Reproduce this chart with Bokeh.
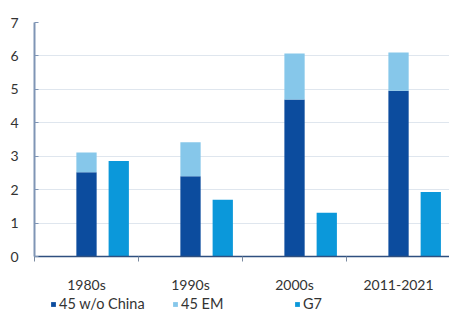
from bokeh.plotting import figure
from bokeh.models import (ColumnDataSource, Range1d, FixedTicker, Legend, LegendItem)
from bokeh.layouts import column
from bokeh.embed import file_html
from bokeh.resources import INLINE

categories = ["1980s", "1990s", "2000s", "2011-2021"]
wo_china = [2.52, 2.40, 4.70, 4.96]
em45 = [3.11, 3.42, 6.07, 6.10]
g7 = [2.86, 1.70, 1.31, 1.93]
y_ticks = [0, 1, 2, 3, 4, 5, 6, 7]
series_names = ["45 w/o China", "45 EM", "G7"]

DARK = "#0c4c9e"
LIGHT = "#86c7ea"
CYAN = "#0b98da"
TXT = "#333333"
FONT = "Lato"

xc = [i + 0.5 for i in range(len(categories))]
src = ColumnDataSource(dict(
    x=xc,
    xg=[v + 0.31 for v in xc],
    wo=wo_china,
    em=em45,
    g7=g7,
))

p = figure(width=449, height=295, output_backend="svg", toolbar_location=None,
           x_range=Range1d(0, 3.99), y_range=Range1d(0, 7),
           min_border_left=34, min_border_right=0, min_border_top=22,
           min_border_bottom=37)
p.outline_line_color = None
p.background_fill_color = "white"

bw = 0.195
p.vbar(x="x", top="wo", bottom=0, width=bw, source=src, fill_color=DARK, line_color=None)
p.vbar(x="x", top="em", bottom="wo", width=bw, source=src, fill_color=LIGHT, line_color=None)
p.vbar(x="xg", top="g7", bottom=0, width=bw, source=src, fill_color=CYAN, line_color=None)

# x axis
p.xaxis.ticker = FixedTicker(ticks=xc, minor_ticks=[0, 1, 2, 3])
p.xaxis.major_label_overrides = {v: c for v, c in zip(xc, categories)}
p.xaxis.major_tick_line_color = None
p.xaxis.major_tick_out = 0
p.xaxis.major_tick_in = 0
p.xaxis.minor_tick_line_color = "#7a8aa0"
p.xaxis.minor_tick_out = 5
p.xaxis.minor_tick_in = 0
p.xaxis.axis_line_color = "#2f4f7f"
p.xaxis.axis_line_width = 1.5
p.xaxis.major_label_standoff = 14
p.xaxis.major_label_text_font = FONT
p.xaxis.major_label_text_font_size = "14px"
p.xaxis.major_label_text_color = TXT

# y axis
p.yaxis.ticker = FixedTicker(ticks=y_ticks)
p.yaxis.axis_line_color = "#7f95b5"
p.yaxis.axis_line_width = 2
p.yaxis.major_tick_line_color = "#7f95b5"
p.yaxis.major_tick_out = 0
p.yaxis.major_tick_in = 4
p.yaxis.minor_tick_line_color = None
p.yaxis.major_label_standoff = 16
p.yaxis.major_label_text_font = FONT
p.yaxis.major_label_text_font_size = "14px"
p.yaxis.major_label_text_color = TXT

p.xgrid.grid_line_color = None
p.ygrid.grid_line_color = "#dfe6ee"
p.ygrid.grid_line_width = 1

# legend strip (same data, bars kept out of this strip's view)
q = figure(width=449, height=17, output_backend="svg", toolbar_location=None,
           x_range=Range1d(0, 1), y_range=Range1d(100, 101),
           x_axis_location=None, y_axis_location=None,
           min_border_left=0, min_border_right=0, min_border_top=0,
           min_border_bottom=0)
q.grid.visible = False
q.outline_line_color = None
g1 = q.vbar(x="x", top="wo", width=0.01, source=src, fill_color=DARK, line_color=None)
g2 = q.vbar(x="x", top="em", width=0.01, source=src, fill_color=LIGHT, line_color=None)
g3 = q.vbar(x="x", top="g7", width=0.01, source=src, fill_color=CYAN, line_color=None)

legend = Legend(items=[LegendItem(label=series_names[0], renderers=[g1]),
                       LegendItem(label=series_names[1], renderers=[g2]),
                       LegendItem(label=series_names[2], renderers=[g3])],
                location=(16, 0), orientation="horizontal",
                padding=0, margin=0, spacing=8,
                border_line_color=None, background_fill_alpha=0,
                glyph_width=6, glyph_height=6, label_standoff=3,
                label_width=105,
                label_text_font=FONT, label_text_font_size="14.5px",
                label_text_color=TXT, label_height=14)
q.add_layout(legend, "center")

layout = column(p, q, spacing=0)
open("out.html", "w").write(file_html(layout, INLINE))
